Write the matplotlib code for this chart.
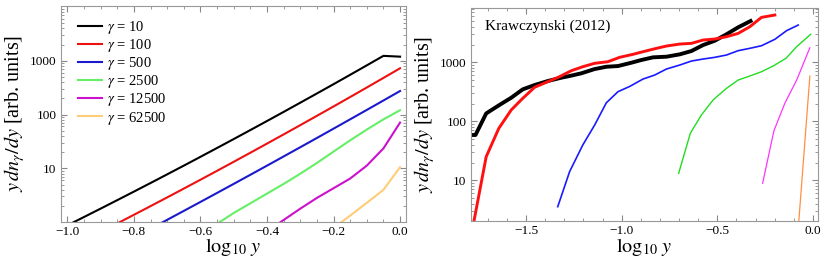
import matplotlib
matplotlib.use('Agg')
import matplotlib.pyplot as plt
from matplotlib.ticker import FixedLocator, MultipleLocator, LogLocator, NullFormatter
import numpy as np

plt.rcParams.update({
    'font.family': ['Liberation Serif', 'DejaVu Serif'],
    'mathtext.fontset': 'stix',
    'axes.unicode_minus': True,
})

# ---- left panel: model spectra, sampled every 0.05 in log10 y ----
x_model = np.round(np.arange(-1.0, 0.001, 0.05), 2)
gamma_10 = [0.871, 1.245, 1.783, 2.563, 3.691, 5.333, 7.727, 11.22, 16.35, 23.89, 34.99,
            51.4, 75.7, 111.8, 165.7, 246, 366, 547, 820, 1231, 1190]
gamma_100 = [np.nan, np.nan, np.nan, 0.946, 1.368, 1.983, 2.882, 4.201, 6.138, 8.995, 13.22,
             19.49, 28.79, 42.66, 63.4, 94.5, 141.1, 211.4, 317.7, 478.6, 723.1]
gamma_500 = [np.nan] * 5 + [0.755, 1.104, 1.617, 2.374, 3.49, 5.14, 7.586, 11.21, 16.61,
                            24.65, 36.64, 54.58, 81.43, 121.7, 182.3, 273.5]
gamma_2500 = [np.nan] * 9 + [0.933, 1.479, 2.239, 3.388, 5.129, 7.943, 12.59, 20.42,
                             33.11, 52.48, 81.28, 120.2]
gamma_12500 = [np.nan] * 12 + [0.676, 1.096, 1.778, 2.818, 4.266, 6.457, 11.22, 23.44, 70.79]
gamma_62500 = [np.nan] * 16 + [0.78, 1.32, 2.29, 3.98, 10.5]

left_series = [
    (gamma_10, 'black', r'$\gamma$ = 10'),
    (gamma_100, '#ee1111', r'$\gamma$ = 100'),
    (gamma_500, '#1a1acc', r'$\gamma$ = 500'),
    (gamma_2500, '#66ee66', r'$\gamma$ = 2500'),
    (gamma_12500, '#cc11cc', r'$\gamma$ = 12500'),
    (gamma_62500, '#ffcc77', r'$\gamma$ = 62500'),
]

# ---- right panel: Krawczynski (2012) curves ----
k_black_x = [-1.796, -1.764, -1.708, -1.639, -1.577, -1.517, -1.455, -1.386, -1.316,
             -1.272, -1.211, -1.141, -1.08, -1.019, -0.949, -0.897, -0.836, -0.766,
             -0.696, -0.635, -0.574, -0.513, -0.452, -0.391, -0.326]
k_black_y = [58.6, 58.6, 136, 189, 251, 348, 412, 482, 548, 586, 651, 769, 841, 865,
             985, 1094, 1215, 1245, 1366, 1555, 1965, 2323, 2985, 3920, 5010]
k_red_x = [-1.775, -1.708, -1.642, -1.577, -1.517, -1.455, -1.386, -1.325, -1.263,
           -1.203, -1.141, -1.072, -1.01, -0.941, -0.888, -0.818, -0.766, -0.696,
           -0.635, -0.574, -0.513, -0.452, -0.391, -0.33, -0.269, -0.199]
k_red_y = [1.8, 25.1, 76, 156, 245, 377, 470, 570, 721, 842, 962, 1024, 1216, 1366,
           1514, 1726, 1888, 2041, 2097, 2388, 2483, 2716, 3093, 4010, 5780, 6340]
k_blue_x = [-1.334, -1.272, -1.203, -1.141, -1.08, -1.019, -0.958, -0.888, -0.827,
            -0.766, -0.696, -0.635, -0.574, -0.513, -0.452, -0.391, -0.33, -0.269,
            -0.199, -0.138, -0.077]
k_blue_y = [3.57, 14, 39.7, 86.5, 206, 318, 390, 521, 609, 769, 900, 1052, 1137, 1215,
            1330, 1575, 1727, 1910, 2455, 3436, 4285]
k_green_x = [-0.702, -0.641, -0.583, -0.522, -0.452, -0.391, -0.33, -0.269, -0.208,
             -0.141, -0.085, -0.012]
k_green_y = [13.1, 62.6, 128, 230, 362, 501, 586, 693, 865, 1169, 1843, 2985]
k_mag_x = [-0.263, -0.204, -0.147, -0.085, -0.016]
k_mag_y = [8.9, 69, 202, 501, 1766]
k_orange_x = [-0.075, -0.016]
k_orange_y = [1.8, 586]

right_series = [
    (k_black_x, k_black_y, 'black', 2.8),
    (k_red_x, k_red_y, '#ff1010', 2.1),
    (k_blue_x, k_blue_y, '#1a1aff', 1.2),
    (k_green_x, k_green_y, '#22dd22', 1.0),
    (k_mag_x, k_mag_y, '#ff33ff', 0.9),
    (k_orange_x, k_orange_y, '#ff9040', 0.9),
]

fig = plt.figure(figsize=(8.3, 2.57), dpi=100)
ax1 = fig.add_axes([0.0731, 0.1374, 0.4157, 0.8393])
ax2 = fig.add_axes([0.5671, 0.140, 0.4181, 0.8307])

for y, c, lab in left_series:
    ax1.plot(x_model, y, color=c, lw=1.5, label=lab)
for x, y, c, lw in right_series:
    ax2.plot(x, y, color=c, lw=lw)

ylabel = r'$y\,dn_\gamma/dy$ [arb. units]'
for ax in (ax1, ax2):
    ax.set_yscale('log')
    ax.yaxis.set_major_locator(FixedLocator([10, 100, 1000]))
    ax.set_yticklabels(['10', '100', '1000'])
    ax.yaxis.set_minor_locator(LogLocator(base=10, subs=np.arange(2, 10)))
    ax.yaxis.set_minor_formatter(NullFormatter())
    ax.set_ylabel(ylabel, fontsize=14.5, labelpad=2)
    ax.set_xlabel(r'$\log_{10}\,y$', fontsize=14.5, labelpad=-1)
    ax.tick_params(which='both', direction='in', top=True, right=True,
                   color='#888888', labelsize=9.5, pad=3)
    ax.tick_params(which='major', length=4)
    ax.tick_params(which='minor', length=2)
    for s in ax.spines.values():
        s.set_color('#999999')
        s.set_linewidth(0.8)

ax1.set_xlim(-1.02, 0.017)
ax1.set_ylim(1.02, 1.04e4)
ax1.xaxis.set_major_locator(MultipleLocator(0.2))
ax1.xaxis.set_minor_locator(MultipleLocator(0.05))
ax1.legend(loc='upper left', frameon=False, fontsize=10.5, handlelength=1.6,
           handletextpad=0.4, labelspacing=0.08, borderaxespad=0.4,
           bbox_to_anchor=(0.017, 0.995))

ax2.set_xlim(-1.789, 0.025)
ax2.set_ylim(2.04, 8490)
ax2.xaxis.set_major_locator(MultipleLocator(0.5))
ax2.xaxis.set_minor_locator(MultipleLocator(0.1))
ax2.text(0.04, 0.945, 'Krawczynski (2012)', transform=ax2.transAxes,
         fontsize=11, va='top', ha='left')

fig.savefig('out.png', dpi=100)
